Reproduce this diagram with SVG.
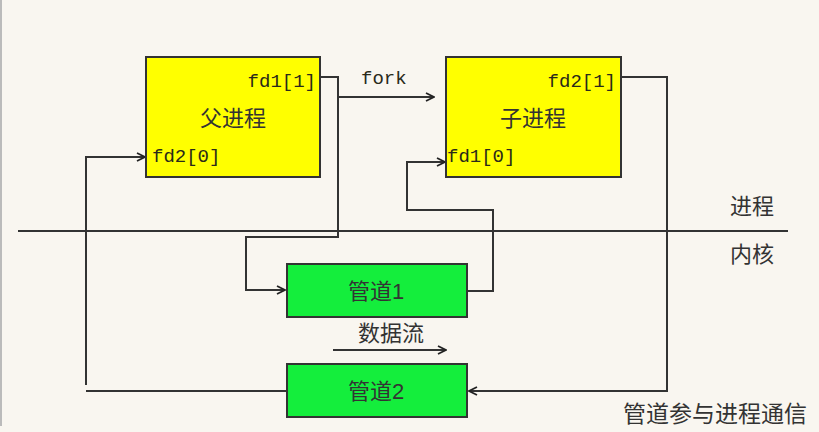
<svg xmlns="http://www.w3.org/2000/svg" width="819" height="432" viewBox="0 0 819 432">
<defs>
<marker id="arr" viewBox="0 0 10 10" refX="9" refY="5" markerWidth="10" markerHeight="10" markerUnits="userSpaceOnUse" orient="auto">
<path d="M1,1 L9,5 L1,9" fill="none" stroke="#222" stroke-width="1.8"/>
</marker>
<style>
.box{stroke:#333;stroke-width:2}
.proc{fill:#ffff00}
.pipe{fill:#14ee3c}
.mono{font-family:"Liberation Mono","DejaVu Sans Mono",monospace;font-size:19px;fill:#2a2a1a}
.cjk{font-family:"Liberation Sans","Noto Sans CJK SC",sans-serif;font-size:22px;fill:#333}
.ln{fill:none;stroke:#333;stroke-width:2}
</style>
</defs>
<rect width="819" height="432" fill="#f9f6f0"/>
<line x1="1" y1="0" x2="1" y2="426" stroke="#bbb" stroke-width="2"/>
<g id="connectors">
<line class="ln" x1="18" y1="231" x2="788" y2="231"/>
<polyline class="ln" points="320,77 338,77 338,237 246,237 246,290 285,290" marker-end="url(#arr)"/>
<line class="ln" x1="338" y1="97" x2="434" y2="97" marker-end="url(#arr)"/>
<polyline class="ln" points="467,291 493,291 493,210 407,210 407,162 445,162" marker-end="url(#arr)"/>
<polyline class="ln" points="621,77 667,77 667,391 469,391" marker-end="url(#arr)"/>
<line class="ln" x1="287" y1="391" x2="86" y2="391"/>
<polyline class="ln" points="86,385 86,157 145,157" marker-end="url(#arr)"/>
<line class="ln" x1="333" y1="350" x2="446" y2="350" marker-end="url(#arr)"/>
</g>
<g id="parent">
<rect class="box proc" x="146" y="57" width="174" height="120"/>
<text class="mono" x="316" y="87" text-anchor="end">fd1[1]</text>
<text class="cjk" x="233" y="126" text-anchor="middle">父进程</text>
<text class="mono" x="152" y="162">fd2[0]</text>
</g>
<g id="child">
<rect class="box proc" x="446" y="57" width="175" height="120"/>
<text class="mono" x="616" y="87" text-anchor="end">fd2[1]</text>
<text class="cjk" x="533" y="126" text-anchor="middle">子进程</text>
<text class="mono" x="447" y="162">fd1[0]</text>
</g>
<g id="pipe1">
<rect class="box pipe" x="287" y="264" width="180" height="53"/>
<text class="cjk" x="376" y="299" text-anchor="middle">管道1</text>
</g>
<g id="pipe2">
<rect class="box pipe" x="287" y="364" width="180" height="53"/>
<text class="cjk" x="376" y="399" text-anchor="middle">管道2</text>
</g>
<g id="labels">
<text class="mono" x="361" y="84">fork</text>
<text class="cjk" x="391" y="341" text-anchor="middle">数据流</text>
<text class="cjk" x="752" y="214" text-anchor="middle">进程</text>
<text class="cjk" x="752" y="262" text-anchor="middle">内核</text>
<text class="cjk" x="715" y="422" text-anchor="middle" style="font-size:23px">管道参与进程通信</text>
</g>
</svg>
